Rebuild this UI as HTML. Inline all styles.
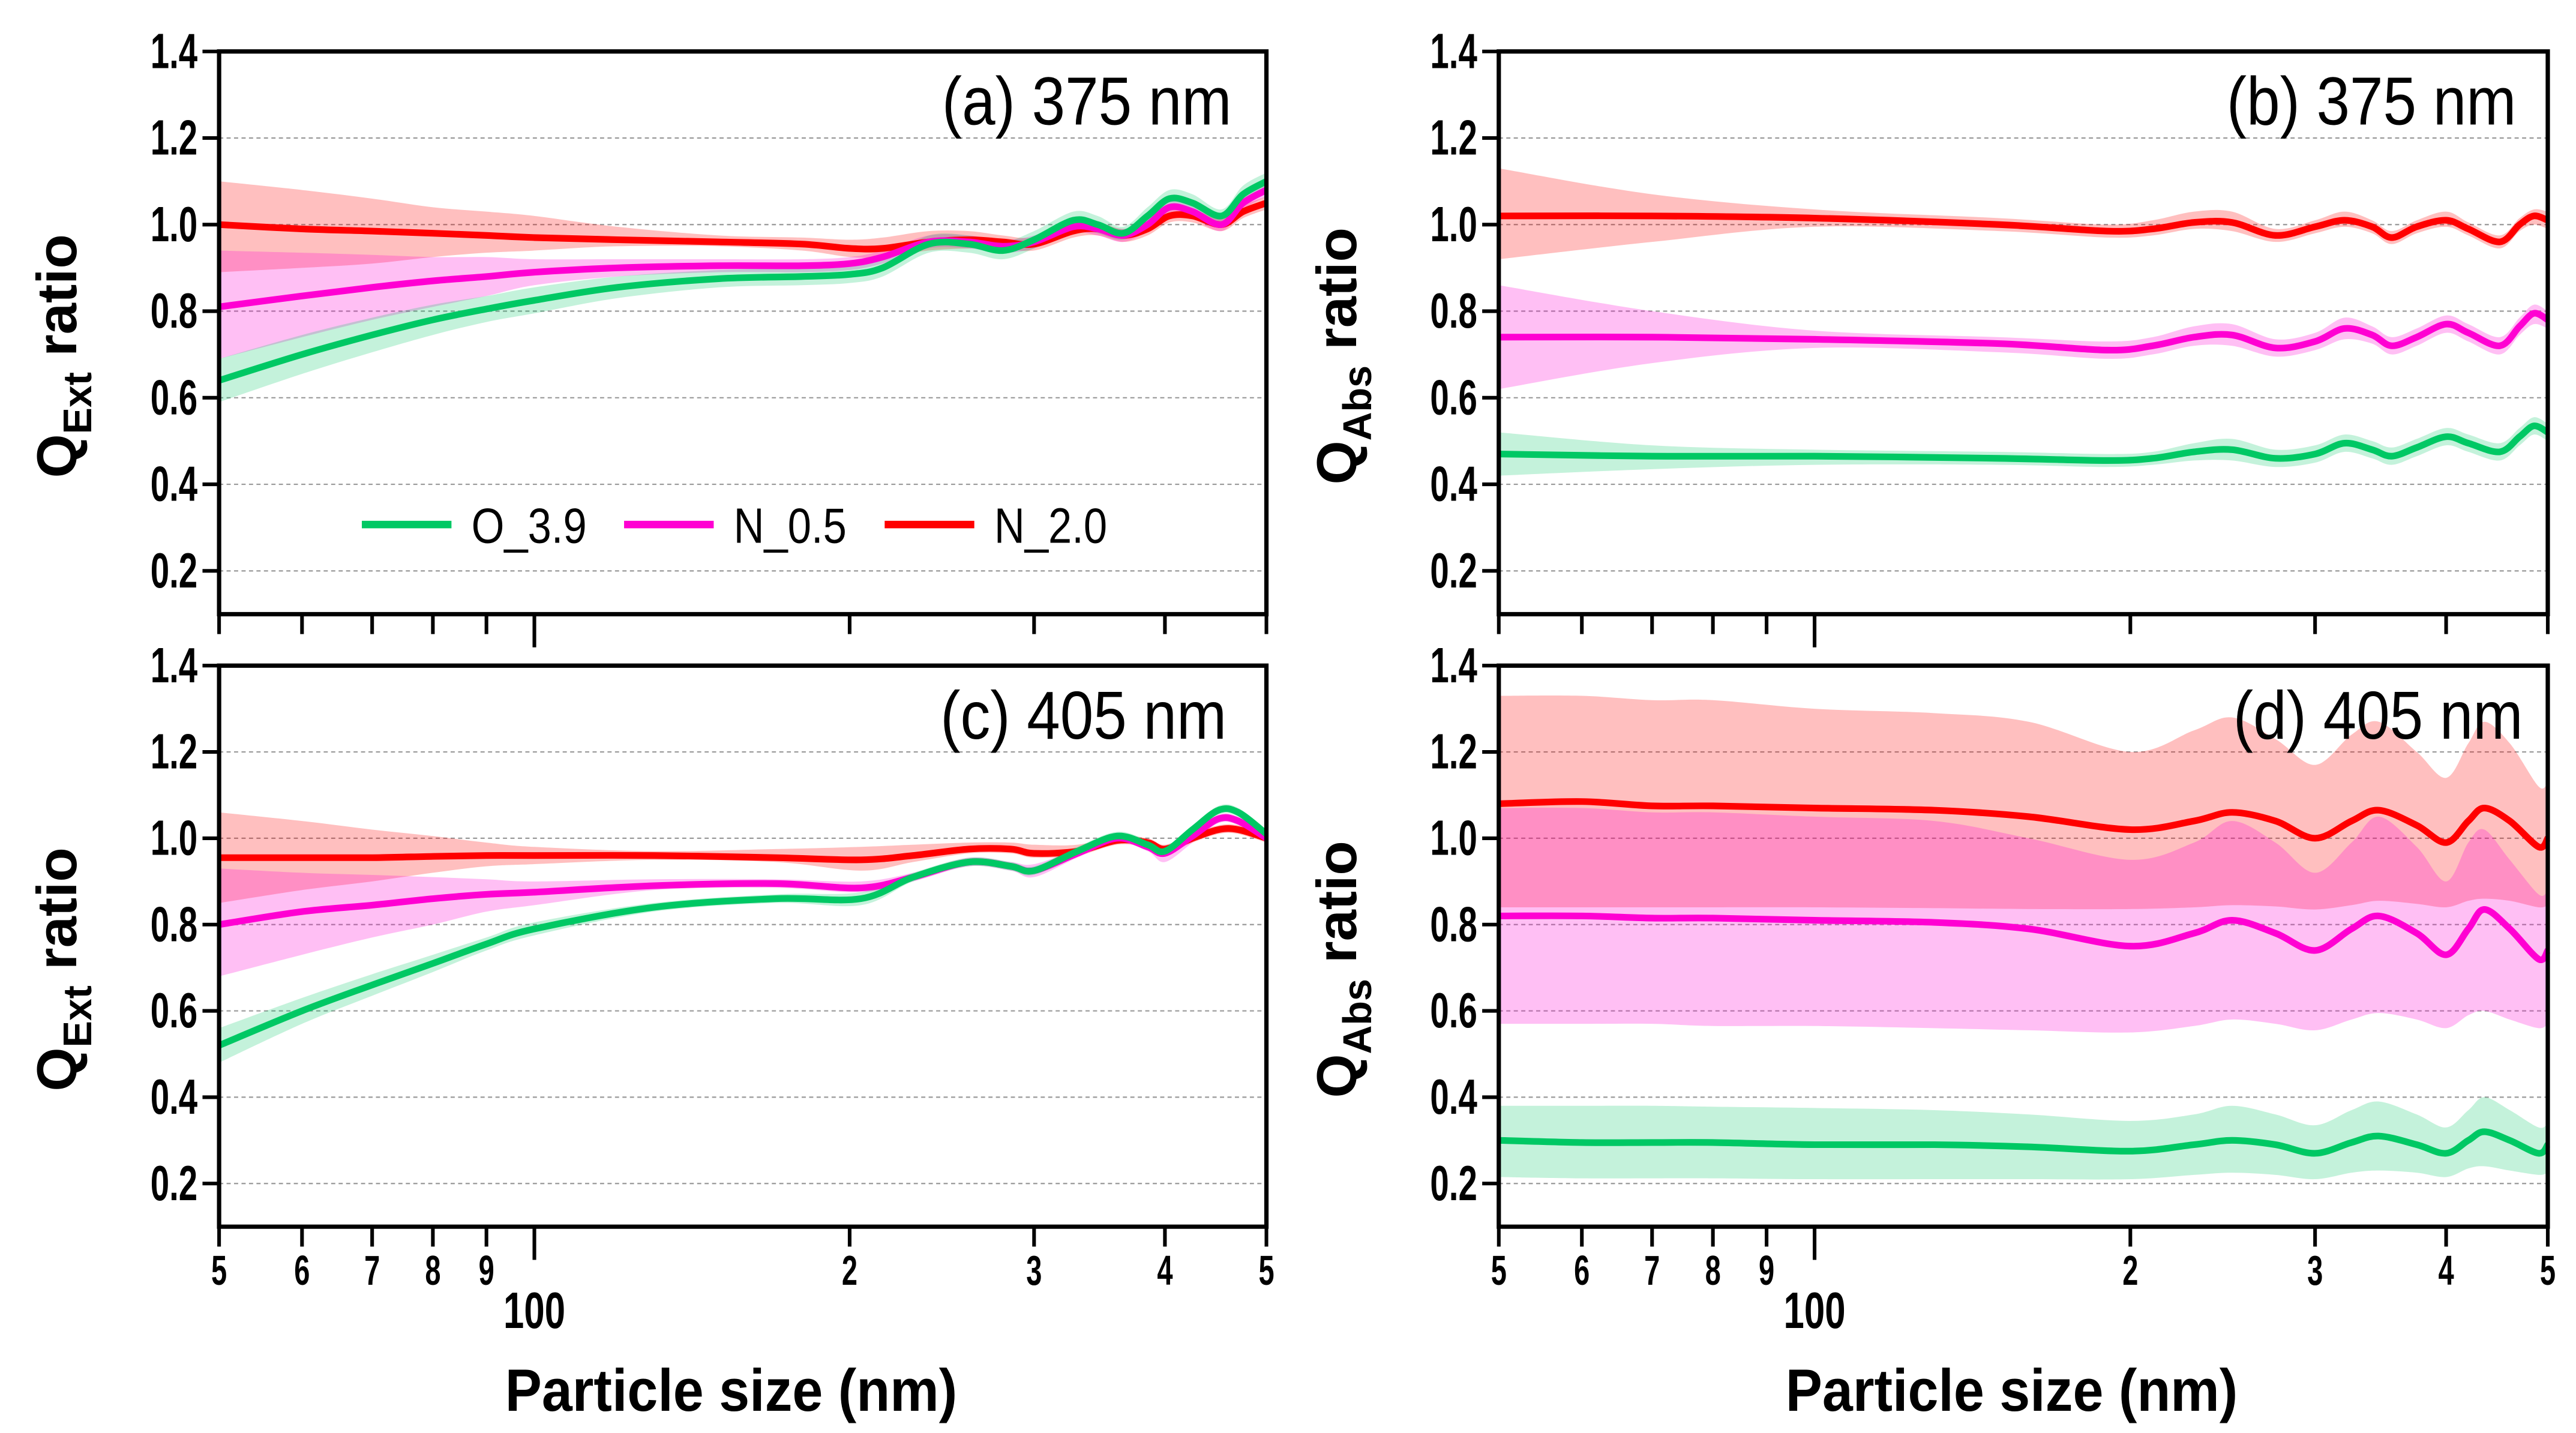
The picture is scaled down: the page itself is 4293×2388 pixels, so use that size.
<!DOCTYPE html>
<html><head><meta charset="utf-8">
<style>
html,body{margin:0;padding:0;background:#fff;}
svg{display:block;}
text{font-family:"Liberation Sans",sans-serif;}
</style></head>
<body>
<svg id="chart" xmlns="http://www.w3.org/2000/svg" width="4293" height="2388" viewBox="0 0 1552 863.3" preserveAspectRatio="none"></svg>
<script>
// ---------- data ----------
const seriesNames = ["O_3.9","N_0.5","N_2.0"];
// panel (a) Q_Ext 375 nm
const xA = [50,60,70,80,90,100,120,150,180,200,215,238,260,280,300,327,345,365,385,404,425,453,475,500];
const aGreen = [.64,.70,.745,.78,.805,.825,.855,.875,.88,.885,.90,.955,.955,.94,.965,1.01,1.0,.98,1.02,1.06,1.05,1.02,1.07,1.10];
const aGreenLo = [.59,.655,.705,.745,.775,.795,.83,.855,.86,.865,.88,.935,.935,.92,.945,.99,.98,.965,1.0,1.04,1.03,1.005,1.05,1.08];
const aGreenHi = [.69,.745,.785,.815,.835,.855,.88,.895,.90,.905,.92,.975,.975,.96,.985,1.03,1.02,.995,1.04,1.08,1.07,1.035,1.09,1.12];
const aMag = [.81,.835,.855,.87,.88,.89,.90,.905,.905,.91,.925,.96,.96,.95,.96,.995,.99,.975,1.0,1.04,1.03,1.0,1.05,1.08];
const aMagLo = [.69,.74,.78,.81,.835,.86,.88,.89,.89,.895,.91,.945,.945,.935,.945,.98,.975,.96,.985,1.025,1.015,.985,1.035,1.065];
const aMagHi = [.94,.935,.93,.925,.925,.92,.92,.92,.92,.925,.94,.975,.975,.965,.975,1.01,1.005,.99,1.015,1.055,1.045,1.015,1.065,1.095];
const aRed = [1.0,.99,.985,.98,.975,.97,.965,.96,.955,.945,.945,.96,.965,.96,.955,.985,.99,.975,.99,1.02,1.02,1.0,1.03,1.05];
const aRedLo = [.89,.90,.91,.925,.935,.94,.95,.95,.94,.925,.925,.94,.945,.945,.94,.97,.975,.96,.975,1.005,1.005,.985,1.015,1.035];
const aRedHi = [1.10,1.08,1.06,1.04,1.03,1.02,.995,.975,.97,.965,.97,.985,.985,.975,.97,1.0,1.005,.99,1.005,1.035,1.035,1.015,1.045,1.065];
// panel (b) Q_Abs 375 nm
const xB = [50,70,100,150,190,210,230,250,275,300,320,340,355,375,400,420,450,470,485,500];
const bRed = [1.02,1.02,1.015,1.0,.985,.99,1.005,1.005,.975,.995,1.01,.995,.97,.995,1.01,.99,.96,1.0,1.02,1.01];
const bRedLo = [.92,.96,.995,.985,.97,.975,.99,.985,.96,.98,.995,.98,.955,.98,.995,.975,.945,.985,1.0,.99];
const bRedHi = [1.13,1.07,1.035,1.015,1.0,1.01,1.03,1.03,.99,1.01,1.03,1.01,.985,1.01,1.03,1.005,.975,1.015,1.035,1.03];
const bMag = [.74,.74,.735,.725,.71,.72,.74,.745,.715,.73,.76,.745,.72,.74,.77,.75,.72,.765,.795,.78];
const bMagLo = [.62,.68,.715,.705,.69,.70,.72,.72,.695,.71,.735,.725,.70,.72,.75,.73,.70,.745,.77,.76];
const bMagHi = [.86,.80,.755,.74,.73,.74,.765,.77,.735,.75,.785,.765,.74,.76,.79,.77,.74,.785,.815,.80];
const bGreen = [.47,.465,.465,.46,.455,.46,.475,.48,.46,.47,.495,.48,.465,.485,.51,.495,.475,.51,.535,.52];
const bGreenLo = [.42,.435,.445,.445,.44,.445,.455,.455,.44,.45,.475,.46,.445,.465,.49,.475,.455,.49,.515,.50];
const bGreenHi = [.52,.49,.48,.475,.47,.475,.495,.505,.48,.49,.515,.50,.485,.505,.53,.515,.495,.53,.555,.54];
// panel (c) Q_Ext 405 nm
const xC = [50,60,70,80,90,100,130,170,205,230,260,285,300,330,360,385,400,425,450,470,500];
const cGreen = [.52,.60,.66,.71,.755,.79,.84,.86,.86,.91,.945,.935,.925,.97,1.005,.985,.97,1.02,1.065,1.06,1.01];
const cGreenLo = [.48,.57,.635,.69,.74,.775,.83,.85,.845,.90,.935,.925,.915,.96,.995,.975,.96,1.01,1.055,1.05,1.0];
const cGreenHi = [.56,.63,.685,.73,.77,.805,.85,.87,.875,.92,.955,.945,.935,.98,1.015,.995,.98,1.03,1.075,1.07,1.02];
const cMag = [.80,.83,.845,.86,.87,.875,.89,.895,.885,.91,.945,.935,.925,.965,1.0,.98,.965,1.005,1.045,1.04,1.0];
const cMagLo = [.68,.73,.77,.80,.83,.845,.88,.885,.875,.90,.935,.925,.91,.955,.99,.97,.945,.99,1.035,1.03,.99];
const cMagHi = [.93,.92,.915,.91,.905,.90,.905,.905,.90,.92,.955,.945,.94,.975,1.01,.99,.98,1.015,1.055,1.05,1.01];
const cRed = [.955,.955,.955,.958,.96,.96,.96,.955,.95,.96,.975,.975,.965,.97,.995,.99,.975,1.0,1.02,1.02,1.0];
const cRedLo = [.85,.88,.90,.92,.935,.94,.95,.945,.925,.945,.965,.965,.955,.96,.985,.98,.965,.99,1.01,1.01,.99];
const cRedHi = [1.06,1.04,1.02,1.005,.99,.98,.97,.975,.98,.985,.99,.99,.985,.985,1.005,1.0,.985,1.01,1.03,1.03,1.01];
// panel (d) Q_Abs 405 nm
const xD = [50,60,70,80,100,130,160,200,230,250,275,300,325,345,375,400,420,435,460,490,500];
const dRed = [1.08,1.085,1.075,1.075,1.07,1.065,1.05,1.02,1.04,1.06,1.04,1.0,1.04,1.065,1.03,.99,1.04,1.07,1.04,.98,1.0];
const dRedLo = [.84,.84,.84,.84,.84,.838,.836,.836,.84,.845,.842,.835,.845,.855,.848,.84,.855,.86,.855,.84,.845];
const dRedHi = [1.33,1.33,1.32,1.32,1.30,1.29,1.27,1.20,1.25,1.28,1.23,1.17,1.24,1.27,1.20,1.14,1.22,1.27,1.22,1.12,1.13];
const dMag = [.82,.82,.815,.815,.81,.805,.79,.75,.78,.81,.78,.74,.79,.82,.78,.73,.79,.835,.79,.72,.74];
const dMagLo = [.57,.57,.57,.565,.565,.56,.555,.55,.565,.58,.57,.555,.58,.595,.58,.56,.59,.60,.58,.56,.57];
const dMagHi = [1.07,1.07,1.06,1.06,1.05,1.04,1.0,.95,.99,1.04,.99,.92,.99,1.05,.98,.90,.99,1.02,.95,.87,.88];
const dGreen = [.30,.295,.295,.295,.29,.29,.285,.275,.29,.30,.29,.27,.295,.31,.29,.27,.30,.32,.30,.27,.29];
const dGreenLo = [.215,.212,.212,.212,.21,.21,.21,.21,.22,.225,.22,.21,.225,.23,.225,.215,.235,.24,.23,.22,.225];
const dGreenHi = [.38,.38,.38,.378,.375,.37,.36,.345,.36,.38,.36,.335,.37,.39,.36,.33,.37,.40,.37,.33,.34];
const yTicks = [0.2,0.4,0.6,0.8,1.0,1.2,1.4];
const yTickLabels = ["0.2","0.4","0.6","0.8","1.0","1.2","1.4"];
const xMinor = [50,60,70,80,90,200,300,400,500];
const xMinorLabels = ["5","6","7","8","9","2","3","4","5"];
const xMajor = [100];
const xMajorLabels = ["100"];

// ---------- drawing ----------
const NS = "http://www.w3.org/2000/svg";
const svg = document.getElementById("chart");
const COL = {g:"#00c864", m:"#ff00d2", r:"#ff0000"};
const BAND = {g:"rgba(0,200,100,0.23)", m:"rgba(255,0,210,0.25)", r:"rgba(255,0,0,0.25)"};
function mk(tag, attrs, parent){
  const e = document.createElementNS(NS, tag);
  for (const k in attrs) e.setAttribute(k, attrs[k]);
  (parent||svg).appendChild(e);
  return e;
}
function smooth(pts){
  let d = "";
  for (let i=0;i<pts.length-1;i++){
    const p0=pts[Math.max(0,i-1)], p1=pts[i], p2=pts[i+1], p3=pts[Math.min(pts.length-1,i+2)];
    const c1=[p1[0]+(p2[0]-p0[0])/6, p1[1]+(p2[1]-p0[1])/6];
    const c2=[p2[0]-(p3[0]-p1[0])/6, p2[1]-(p3[1]-p1[1])/6];
    d += " C"+c1[0].toFixed(2)+","+c1[1].toFixed(2)+" "+c2[0].toFixed(2)+","+c2[1].toFixed(2)+" "+p2[0].toFixed(2)+","+p2[1].toFixed(2);
  }
  return d;
}
function panel(cfg){
  const {L,R,T,B,id} = cfg;
  const xs = v => L + (R-L)*Math.log10(v/50);
  const ys = v => B - (B-T)*(v-0.1)/1.3;
  const g = mk("g",{});
  
  
  yTicks.forEach((t,i)=>{
    if (t<1.39){
      const gl = mk("line",{x1:L,x2:R,y1:ys(t),y2:ys(t),stroke:"#999","stroke-width":0.8,"stroke-dasharray":"2.5,2"},g);
      
      
    }
    const tk = mk("line",{x1:L-10,x2:L,y1:ys(t),y2:ys(t),stroke:"#000","stroke-width":2.2},g);
    
    
    const tx = mk("text",{transform:"translate("+(L-13)+","+(ys(t)+10)+") scale(0.68,1)","text-anchor":"end","font-size":30,"font-weight":"bold"},g);
    tx.textContent = yTickLabels[i];
    
    
  });
  const order = [["r",cfg.r],["m",cfg.m],["g",cfg.g]];
  order.forEach(([k,s])=>{
    const hi = cfg.x.map((v,i)=>[xs(v),ys(s.hi[i])]);
    const lo = cfg.x.map((v,i)=>[xs(v),ys(s.lo[i])]).reverse();
    const d = "M"+hi[0][0]+","+hi[0][1]+smooth(hi)+" L"+lo[0][0]+","+lo[0][1]+smooth(lo)+" Z";
    const p = mk("path",{d:d,fill:BAND[k],stroke:"none"},g);
    
    
  });
  order.forEach(([k,s])=>{
    const pts = cfg.x.map((v,i)=>[xs(v),ys(s.y[i])]);
    const p = mk("path",{d:"M"+pts[0][0]+","+pts[0][1]+smooth(pts),fill:"none",stroke:COL[k],"stroke-width":4,"stroke-linejoin":"round"},g);
    
    
  });
  const fr = mk("path",{d:"M"+L+","+B+" L"+L+","+T+" L"+R+","+T+" L"+R+","+B+" Z",fill:"none",stroke:"#000","stroke-width":2.6},g);
  
  
  xMinor.forEach((v,i)=>{
    const t = mk("line",{x1:xs(v),x2:xs(v),y1:B,y2:B+12,stroke:"#000","stroke-width":2.2},g);
    
    
    if (cfg.labels){
      const tx = mk("text",{transform:"translate("+xs(v)+","+(B+35)+") scale(0.68,1)","text-anchor":"middle","font-size":25,"font-weight":"bold"},g);
      tx.textContent = xMinorLabels[i];
      
      
    }
  });
  xMajor.forEach((v,i)=>{
    const t = mk("line",{x1:xs(v),x2:xs(v),y1:B,y2:B+20,stroke:"#000","stroke-width":2.2},g);
    
    
    if (cfg.labels){
      const tx = mk("text",{transform:"translate("+xs(v)+","+(B+61)+") scale(0.72,1)","text-anchor":"middle","font-size":31,"font-weight":"bold"},g);
      tx.textContent = xMajorLabels[i];
      
      
    }
  });
  const pl = mk("text",{transform:"translate("+(cfg.lx)+","+(T+44)+") scale(0.88,1)","text-anchor":"end","font-size":41},g);
  pl.textContent = cfg.title;
  
  
  const cy = (T+B)/2 + 14;
  const yt = mk("text",{transform:"translate("+(L-86)+","+cy+") rotate(-90)","text-anchor":"middle","font-size":34,"font-weight":"bold"},g);
  
  
  const t1 = mk("tspan",{},yt); t1.textContent = "Q";
  const t2 = mk("tspan",{dy:9,"font-size":24},yt); t2.textContent = cfg.sub;
  const t3 = mk("tspan",{dy:-9},yt); t3.textContent = " ratio";
  if (cfg.labels){
    const xt = mk("text",{transform:"translate("+((L+R)/2-7)+","+(B+111)+") scale(0.92,1)","text-anchor":"middle","font-size":36,"font-weight":"bold"},g);
    xt.textContent = "Particle size (nm)";
    
    
  }
}
panel({id:"a",L:132,R:763,T:31,B:370,x:xA,title:"(a) 375 nm",sub:"Ext",lx:742,labels:false,
  g:{y:aGreen,lo:aGreenLo,hi:aGreenHi},m:{y:aMag,lo:aMagLo,hi:aMagHi},r:{y:aRed,lo:aRedLo,hi:aRedHi}});
panel({id:"b",L:903,R:1535,T:31,B:370,x:xB,title:"(b) 375 nm",sub:"Abs",lx:1516,labels:false,
  g:{y:bGreen,lo:bGreenLo,hi:bGreenHi},m:{y:bMag,lo:bMagLo,hi:bMagHi},r:{y:bRed,lo:bRedLo,hi:bRedHi}});
panel({id:"c",L:132,R:763,T:401,B:739,x:xC,title:"(c) 405 nm",sub:"Ext",lx:739,labels:true,
  g:{y:cGreen,lo:cGreenLo,hi:cGreenHi},m:{y:cMag,lo:cMagLo,hi:cMagHi},r:{y:cRed,lo:cRedLo,hi:cRedHi}});
panel({id:"d",L:903,R:1535,T:401,B:739,x:xD,title:"(d) 405 nm",sub:"Abs",lx:1520,labels:true,
  g:{y:dGreen,lo:dGreenLo,hi:dGreenHi},m:{y:dMag,lo:dMagLo,hi:dMagHi},r:{y:dRed,lo:dRedLo,hi:dRedHi}});

const leg = mk("g",{});


const legX = [218,376,533];
const legK = ["g","m","r"];
seriesNames.forEach((n,i)=>{
  const ln = mk("line",{x1:legX[i],x2:legX[i]+54,y1:316,y2:316,stroke:COL[legK[i]],"stroke-width":4.5},leg);
  
  
  const tx = mk("text",{transform:"translate("+(legX[i]+66)+","+327+") scale(0.85,1)","font-size":30},leg);
  tx.textContent = n;
  
  
});
</script>
</body></html>
